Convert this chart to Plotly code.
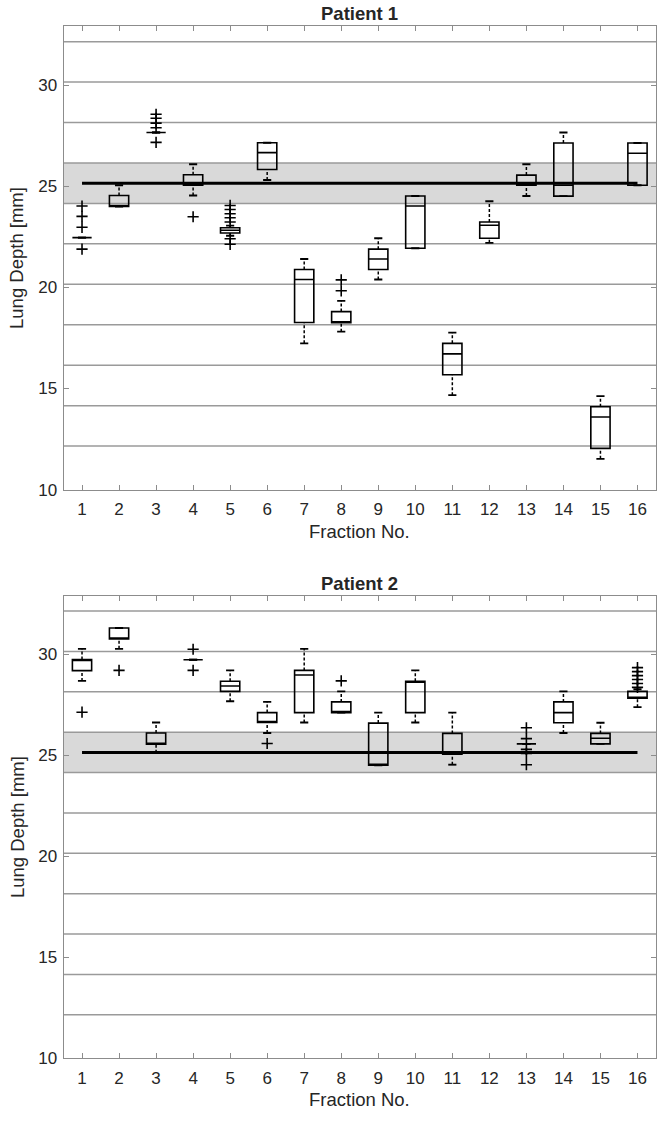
import plotly.graph_objects as go

# ---------------- data ----------------
fractions = list(range(1, 17))
x_tick_labels = [str(f) for f in fractions]
y_tick_vals = [10, 15, 20, 25, 30]

mean_depth = 25.15
band_low = 24.15
band_high = 26.15
ref_levels = [12.15, 14.15, 16.15, 18.15, 20.15, 22.15, 24.15, 26.15, 28.15, 30.15, 32.15]

# Patient 1
p1_frac = fractions
p1_q1 = [22.46, 24.00, 27.66, 25.05, 22.69, 25.83, 18.26, 18.25, 20.88, 21.93, 15.68, 22.43, 25.05, 24.51, 12.04, 25.05]
p1_med = [22.46, 24.00, 27.66, 25.05, 22.82, 26.66, 20.39, 18.25, 21.40, 24.02, 16.71, 23.07, 25.05, 25.05, 13.59, 26.63]
p1_q3 = [22.46, 24.54, 27.66, 25.57, 22.95, 27.15, 20.88, 18.80, 21.89, 24.52, 17.23, 23.23, 25.55, 27.14, 14.10, 27.14]
p1_lo = [22.46, 24.00, 27.66, 24.54, 22.55, 25.31, 17.23, 17.81, 20.39, 21.93, 14.67, 22.20, 24.52, 24.51, 11.52, 25.05]
p1_hi = [22.46, 25.05, 27.66, 26.09, 23.05, 27.15, 21.40, 19.33, 22.43, 24.52, 17.76, 24.26, 26.09, 27.66, 14.62, 27.14]
p1_out_x = [1, 1, 1, 1, 3, 3, 3, 3, 3, 4, 5, 5, 5, 5, 5, 5, 5, 8, 8]
p1_out_y = [24.02, 23.51, 22.97, 21.89, 28.56, 28.36, 28.12, 27.89, 27.17, 23.49,
            24.05, 23.85, 23.64, 23.44, 23.23, 22.40, 22.13, 20.37, 19.83]

# Patient 2 (no data for fraction 12)
p2_frac = [1, 2, 3, 4, 5, 6, 7, 8, 9, 10, 11, 13, 14, 15, 16]
p2_q1 = [29.20, 30.77, 25.55, 29.74, 28.17, 26.63, 27.12, 27.12, 24.51, 27.12, 25.06, 25.57, 26.62, 25.57, 27.83]
p2_med = [29.75, 30.77, 25.55, 29.74, 28.44, 26.63, 28.98, 27.12, 24.51, 28.67, 25.06, 25.57, 27.12, 25.85, 27.83]
p2_q3 = [29.75, 31.31, 26.11, 29.74, 28.67, 27.12, 29.21, 27.65, 26.60, 28.67, 26.09, 25.57, 27.65, 26.09, 28.17]
p2_lo = [28.69, 30.28, 25.13, 29.74, 27.68, 26.11, 26.63, 27.12, 24.51, 26.63, 24.54, 25.57, 26.11, 25.57, 27.39]
p2_hi = [30.28, 31.31, 26.63, 29.74, 29.21, 27.65, 30.28, 28.17, 27.12, 29.21, 27.12, 25.57, 28.17, 26.62, 28.28]
p2_out_x = [1, 2, 4, 4, 6, 8, 13, 13, 13, 13, 13, 16, 16, 16, 16, 16, 16]
p2_out_y = [27.14, 29.21, 30.26, 29.21, 25.59, 28.69, 26.37, 25.83, 25.30, 25.10, 24.54,
            29.35, 29.15, 28.95, 28.76, 28.56, 28.37]

titles = ["Patient 1", "Patient 2"]
x_title = "Fraction No."
y_title = "Lung Depth [mm]"

# ---------------- styling ----------------
FONT = "Liberation Sans, Arial, sans-serif"
TXT = "#262626"
FRAME = "#8c8c8c"
GRID = "#9a9a9a"
BAND = "#d9d9d9"
BOX_W = 0.52
CAP_HALF = 0.11

W, H = 664, 1122
x_dom = [63.5 / W, 656 / W]
y_doms = [[1 - 494 / H, 1 - 26.7 / H], [1 - 1067.7 / H, 1 - 601.3 / H]]

fig = go.Figure()

patients = [
    (p1_frac, p1_q1, p1_med, p1_q3, p1_lo, p1_hi, p1_out_x, p1_out_y),
    (p2_frac, p2_q1, p2_med, p2_q3, p2_lo, p2_hi, p2_out_x, p2_out_y),
]

for i, (fr, q1, med, q3, lo, hi, ox, oy) in enumerate(patients):
    xa = "x" if i == 0 else "x2"
    ya = "y" if i == 0 else "y2"
    # boxes (quartiles + median)
    fig.add_trace(go.Box(
        x=fr, q1=q1, median=med, q3=q3, lowerfence=q1, upperfence=q3,
        width=BOX_W, whiskerwidth=0,
        line=dict(color="black", width=1.6), fillcolor="rgba(0,0,0,0)",
        boxpoints=False, showlegend=False, hoverinfo="skip",
        xaxis=xa, yaxis=ya,
    ))
    # dashed whiskers
    wx, wy = [], []
    for f, a, b, c, d in zip(fr, q1, q3, lo, hi):
        if d > b:
            wx += [f, f, None]
            wy += [b, d, None]
        if c < a:
            wx += [f, f, None]
            wy += [c, a, None]
    fig.add_trace(go.Scatter(
        x=wx, y=wy, mode="lines",
        line=dict(color="black", width=1.5, dash="3px,2px"),
        showlegend=False, hoverinfo="skip", xaxis=xa, yaxis=ya,
    ))
    # whisker caps
    cx, cy = [], []
    for f, c, d in zip(fr, lo, hi):
        for v in (c, d):
            cx += [f - CAP_HALF, f + CAP_HALF, None]
            cy += [v, v, None]
    fig.add_trace(go.Scatter(
        x=cx, y=cy, mode="lines", line=dict(color="black", width=1.9),
        showlegend=False, hoverinfo="skip", xaxis=xa, yaxis=ya,
    ))
    # outliers
    fig.add_trace(go.Scatter(
        x=ox, y=oy, mode="markers",
        marker=dict(symbol="cross-thin", size=8, color="black",
                    line=dict(color="black", width=1.6)),
        showlegend=False, hoverinfo="skip", xaxis=xa, yaxis=ya,
    ))
    # mean line
    fig.add_trace(go.Scatter(
        x=[fractions[0], fractions[-1]], y=[mean_depth, mean_depth], mode="lines",
        line=dict(color="black", width=3),
        showlegend=False, hoverinfo="skip", xaxis=xa, yaxis=ya,
    ))

    # band and reference lines
    xref_dom = ("x" if i == 0 else "x2") + " domain"
    fig.add_shape(type="rect", xref=xref_dom, yref=ya, x0=0, x1=1, y0=band_low, y1=band_high,
                  fillcolor=BAND, line=dict(width=0), layer="below")
    for lv in ref_levels:
        fig.add_shape(type="line", xref=xref_dom, yref=ya, x0=0, x1=1, y0=lv, y1=lv,
                      line=dict(color=GRID, width=1.5), layer="below")

axis_common = dict(
    showline=True, linecolor=FRAME, linewidth=1, mirror="ticks",
    ticks="inside", ticklen=5, tickwidth=1, tickcolor=FRAME,
    showgrid=False, zeroline=False,
    tickfont=dict(family=FONT, size=17, color=TXT),
)

for i in range(2):
    sx = "" if i == 0 else "2"
    fig.update_layout(**{
        "xaxis" + sx: dict(axis_common, domain=x_dom, range=[0.5, 16.5],
                           tickmode="array", tickvals=fractions, ticktext=x_tick_labels,
                           anchor="y" + sx, ticklabelstandoff=4),
        "yaxis" + sx: dict(axis_common, domain=y_doms[i], range=[10, 32.9],
                           tickmode="array", tickvals=y_tick_vals,
                           anchor="x" + sx, ticklabelstandoff=2),
    })

annots = []
title_y = [1 - 14 / H, 1 - 589 / H]
xt_y = [1 - 536.7 / H, 1 - 1109 / H]
yt_y = [1 - 260.3 / H, 1 - 834.5 / H]
xc = (x_dom[0] + x_dom[1]) / 2
for i in range(2):
    annots.append(dict(text="<b>" + titles[i] + "</b>", x=xc, y=title_y[i], xref="paper", yref="paper",
                       showarrow=False, xanchor="center", yanchor="middle",
                       font=dict(family=FONT, size=18.5, color=TXT)))
    annots.append(dict(text=x_title, x=xc, y=xt_y[i], xref="paper", yref="paper",
                       showarrow=False, xanchor="center", yanchor="middle",
                       font=dict(family=FONT, size=18.5, color=TXT)))
    annots.append(dict(text=y_title, x=17 / W, y=yt_y[i], xref="paper", yref="paper",
                       showarrow=False, xanchor="center", yanchor="middle", textangle=-90,
                       font=dict(family=FONT, size=18.5, color=TXT)))

fig.update_layout(
    width=W, height=H, margin=dict(l=0, r=0, t=0, b=0),
    paper_bgcolor="white", plot_bgcolor="white",
    annotations=annots, showlegend=False,
)

post = "document.body.style.margin='0';"

fig.write_html("out.html", config={"displayModeBar": False}, post_script=post)
